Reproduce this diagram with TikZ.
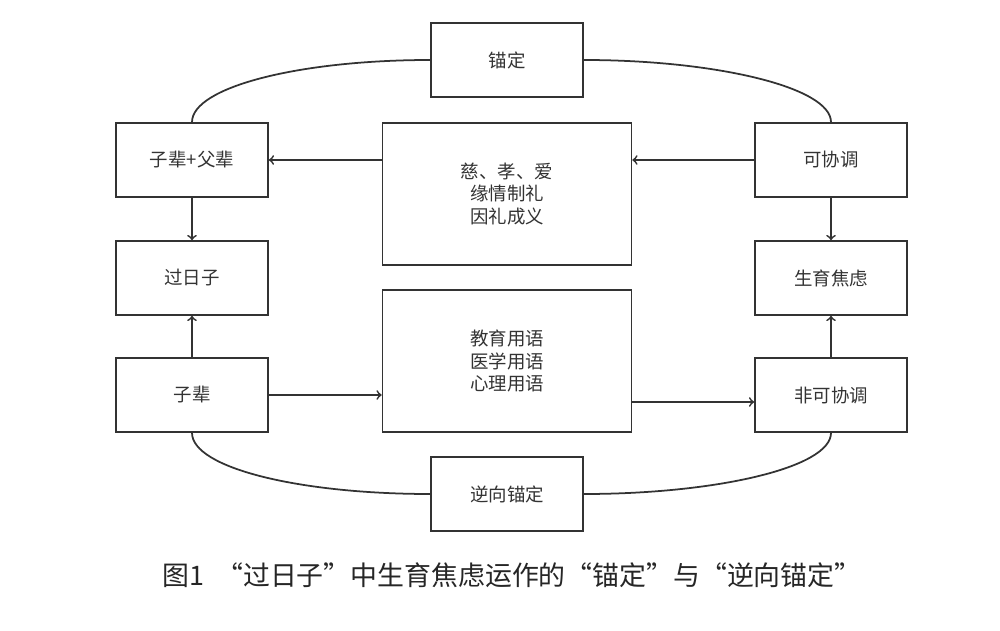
\documentclass[tikz,border=0pt]{standalone}
\usepackage{fontspec}
\setmainfont{Noto Sans CJK SC}
\usetikzlibrary{arrows}

\tikzset{
  box/.style={draw,rectangle,minimum width=3.04cm,minimum height=1.48cm,
    font=\fontsize{10.5pt}{13pt}\selectfont,text=black!80},
  bigbox/.style={box,minimum width=4.98cm,minimum height=2.84cm,align=center},
  arc/.style={out distance=0.7cm,in distance=2.62cm}
}

\begin{document}
\begin{tikzpicture}[x=0.02cm,y=-0.02cm,line width=1pt,draw=black!80,>=to]
\useasboundingbox (0,0) rectangle (1000,631);
\node[box] (maoding) at (507,60) {锚定};
\node[box] (zbfb) at (192,160) {子辈+父辈};
\node[box] (guorizi) at (192,278) {过日子};
\node[box] (zibei) at (192,395) {子辈};
\node[bigbox] (lunli) at (507,194) {慈、孝、爱\\缘情制礼\\因礼成义};
\node[bigbox] (yongyu) at (507,361) {教育用语\\医学用语\\心理用语};
\node[box] (kexie) at (831,160) {可协调};
\node[box] (jiaolv) at (831,278) {生育焦虑};
\node[box] (feikexie) at (831,395) {非可协调};
\node[box] (nixiang) at (507,494) {逆向锚定};
\node[font=\fontsize{15.3pt}{17pt}\selectfont,text=black!85] (tuzhu) at (512,575)
  {图1\ \ “过日子”中生育焦虑运作的“锚定”与“逆向锚定”};
% arcs
\draw (zbfb.north) to[out=90,in=180,arc] (maoding.west);
\draw (kexie.north) to[out=90,in=0,arc] (maoding.east);
\draw (zibei.south) to[out=-90,in=180,arc] (nixiang.west);
\draw (feikexie.south) to[out=-90,in=0,arc] (nixiang.east);
% arrows
\draw[->] (lunli.west |- zbfb.east) -- (zbfb.east);
\draw[->] (kexie.west) -- (lunli.east |- kexie.west);
\draw[->] (zbfb) -- (guorizi);
\draw[->] (zibei) -- (guorizi);
\draw[->] (zibei.east) -- (yongyu.west |- zibei.east);
\draw[->] (yongyu.east |- 0,402) -- (feikexie.west |- 0,402);
\draw[->] (kexie) -- (jiaolv);
\draw[->] (feikexie) -- (jiaolv);
\end{tikzpicture}
\end{document}
